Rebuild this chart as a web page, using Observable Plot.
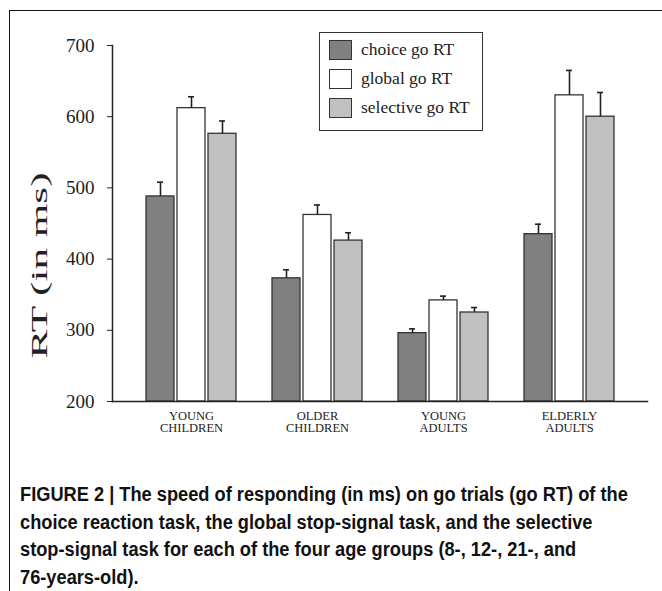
<!DOCTYPE html>
<html>
<head>
<meta charset="utf-8">
<script src="https://cdn.jsdelivr.net/npm/d3@7"></script>
<script src="https://cdn.jsdelivr.net/npm/@observablehq/plot@0.6"></script>
<style>
  html, body { margin: 0; padding: 0; background: #fff; }
  #wrap { position: relative; width: 662px; height: 591px; overflow: hidden; background: #fff; }
  #border { position: absolute; left: 9px; top: 10px; right: -5px; bottom: -5px; border-left: 1.5px solid #111; border-top: 1.5px solid #111; }
  #chart { position: absolute; left: 0; top: 0; }
  #legend { position: absolute; left: 319px; top: 32px; width: 164px; height: 99px; border: 1px solid #333; box-sizing: border-box; background: #fff; font-family: "Liberation Serif", "Times New Roman", serif; font-size: 17.5px; color: #222; }
  .row { position: absolute; left: 9px; height: 20px; }
  .sw { position: absolute; left: 0; top: 0; width: 23px; height: 20px; border: 1.5px solid #333; box-sizing: border-box; }
  .lab { position: absolute; left: 32px; top: -1px; white-space: nowrap; line-height: 20px; }
  #caption { position: absolute; left: 20px; top: 481px; font-family: "Liberation Sans", Arial, sans-serif; font-weight: bold; font-size: 19.5px; line-height: 27.5px; color: #111; white-space: nowrap; transform: scaleX(0.935); transform-origin: 0 0; }
</style>
</head>
<body>
<div id="wrap">
  <div id="border"></div>
  <div id="chart"></div>
  <div id="legend"></div>
  <div id="caption">FIGURE 2 | The speed of responding (in ms) on go trials (go RT) of the<br>choice reaction task, the global stop-signal task, and the selective<br>stop-signal task for each of the four age groups (8-, 12-, 21-, and<br>76-years-old).</div>
</div>
<script>
// ---- data ----
const groups = ["YOUNG\nCHILDREN", "OLDER\nCHILDREN", "YOUNG\nADULTS", "ELDERLY\nADULTS"];
const series = ["choice go RT", "global go RT", "selective go RT"];
const choiceRT = [488, 373, 296, 435];
const globalRT = [612, 462, 342, 630];
const selectiveRT = [576, 426, 325, 600];
const choiceErr = [20, 12, 6, 14];
const globalErr = [16, 14, 6, 35];
const selectiveErr = [18, 11, 7, 34];
const yTicks = [200, 300, 400, 500, 600, 700];
const seriesColors = ["#808080", "#ffffff", "#c0c0c0"];
const yLabel = "RT (in ms)";

const values = [choiceRT, globalRT, selectiveRT];
const errors = [choiceErr, globalErr, selectiveErr];
const data = [];
groups.forEach((g, gi) => {
  series.forEach((s, si) => {
    data.push({group: g, series: s, value: values[si][gi], err: errors[si][gi]});
  });
});
const yMin = yTicks[0], yMax = yTicks[yTicks.length - 1];
const W = 662, H = 450;
const M = {left: 112, right: 15, top: 45, bottom: 49};

function makePlot(offL, offR) {
  return Plot.plot({
    width: W,
    height: H,
    marginLeft: M.left,
    marginRight: M.right,
    marginTop: M.top,
    marginBottom: M.bottom,
    style: {fontFamily: "'Liberation Serif', 'Times New Roman', serif", color: "#222", background: "transparent"},
    fx: {domain: groups, paddingInner: 0.27, paddingOuter: 0.258, label: null},
    x: {domain: series, paddingInner: 0.1, paddingOuter: 0, axis: null},
    y: {domain: [yMin, yMax]},
    color: {domain: series, range: seriesColors},
    marks: [
      Plot.barY(data, {fx: "group", x: "series", y1: () => yMin, y2: "value", fill: "series", stroke: "#333", strokeWidth: 1.3}),
      Plot.ruleX(data, {fx: "group", x: "series", y1: "value", y2: d => d.value + d.err, stroke: "#222", strokeWidth: 1.6}),
      Plot.tickY(data, {fx: "group", x: "series", y: d => d.value + d.err, stroke: "#222", strokeWidth: 1.6, insetLeft: 11, insetRight: 11}),
      Plot.frame({anchor: "bottom", facet: "super", stroke: "#222", strokeWidth: 1.5, insetLeft: -offL, insetRight: -offR}),
      Plot.frame({anchor: "left", facet: "super", stroke: "#222", strokeWidth: 1.5, insetLeft: -offL}),
      Plot.axisY({ticks: yTicks, tickSize: 5, tickPadding: 13, fontSize: 19, label: null, stroke: "#222", dx: -offL}),
      Plot.axisFx({anchor: "bottom", tickSize: 0, tickPadding: 9, fontSize: 12.5, lineHeight: 1.02, label: null}),
      Plot.text([yLabel], {facet: "super", frameAnchor: "left", textAnchor: "middle", rotate: -90, dx: -73 - offL, dy: 42, fontSize: 24, fill: "#222"})
    ]
  });
}
// first pass: read where the group bands start/end so frame lines and the y axis reach the full plot extent
const probe = makePlot(0, 0);
const fx = probe.scale("fx");
const offL = fx.apply(groups[0]) - M.left;
const offR = (W - M.right) - (fx.apply(groups[groups.length - 1]) + fx.bandwidth);
const chart = makePlot(offL, offR);
// stretch the axis title along its length, as in the reference
chart.querySelectorAll("text").forEach(t => {
  if (t.textContent === yLabel) {
    t.setAttribute("textLength", "186");
    t.setAttribute("lengthAdjust", "spacingAndGlyphs");
  }
});
document.getElementById("chart").appendChild(chart);

// legend
const legend = document.getElementById("legend");
series.forEach((s, i) => {
  const row = document.createElement("div");
  row.className = "row";
  row.style.top = (7 + i * 29) + "px";
  const sw = document.createElement("div");
  sw.className = "sw";
  sw.style.background = seriesColors[i];
  const lab = document.createElement("div");
  lab.className = "lab";
  lab.textContent = s;
  row.appendChild(sw);
  row.appendChild(lab);
  legend.appendChild(row);
});
</script>
</body>
</html>
